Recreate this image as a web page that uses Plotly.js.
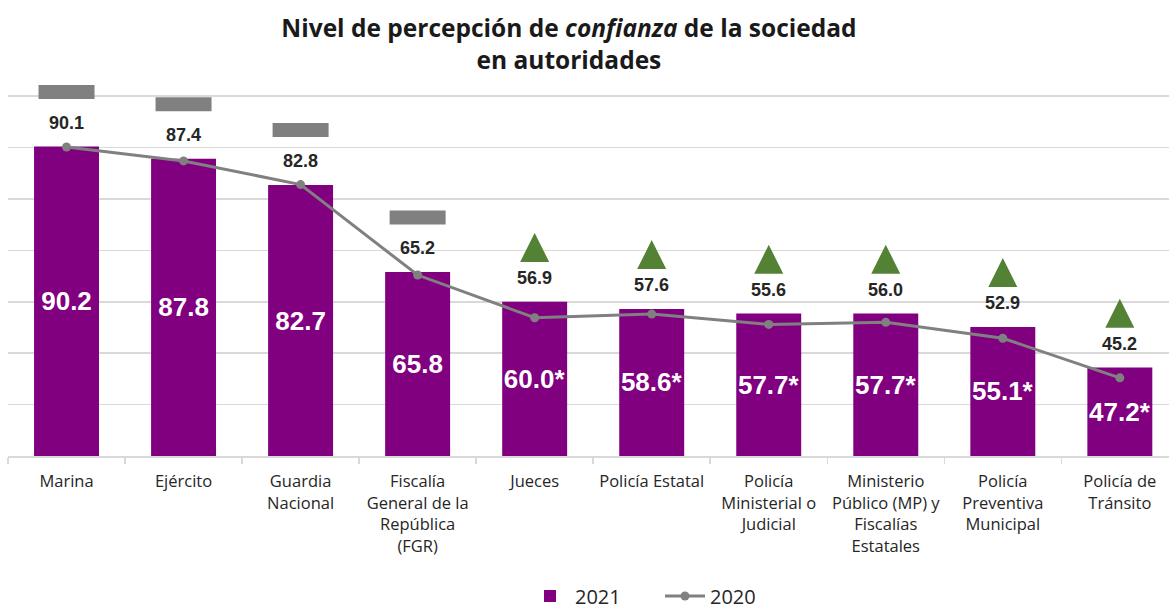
<!DOCTYPE html>
<html>
<head>
<meta charset="utf-8">
<script src="https://cdn.plot.ly/plotly-3.0.1.min.js"></script>
<style>html,body{margin:0;padding:0;background:#fff;}#chart{width:1169px;height:609px;}</style>
</head>
<body>
<div id="chart"></div>
<script>
// ---- data ----
var categories = [
  "Marina",
  "Ejército",
  "Guardia<br>Nacional",
  "Fiscalía<br>General de la<br>República<br>(FGR)",
  "Jueces",
  "Policía Estatal",
  "Policía<br>Ministerial o<br>Judicial",
  "Ministerio<br>Público (MP) y<br>Fiscalías<br>Estatales",
  "Policía<br>Preventiva<br>Municipal",
  "Policía de<br>Tránsito"
];
var values2021 = [90.2, 87.8, 82.7, 65.8, 60.0, 58.6, 57.7, 57.7, 55.1, 47.2];
var values2020 = [90.1, 87.4, 82.8, 65.2, 56.9, 57.6, 55.6, 56.0, 52.9, 45.2];
var significant2021 = [false, false, false, false, true, true, true, true, true, true];
// change indicator: "same" = gray dash, "up" = green triangle
var change = ["same", "same", "same", "same", "up", "up", "up", "up", "up", "up"];

// ---- styles ----
var PURPLE = "#800080";
var GRAY = "#808080";
var GREEN = "#548235";
var GRID = "#d9d9d9";
var NUMFONT = "'Liberation Sans', Arial, sans-serif";
var TXTFONT = "'Open Sans', sans-serif";
var AXIS_MIN = 30, AXIS_MAX = 101;

var barText = values2021.map(function (v, i) { return v.toFixed(1) + (significant2021[i] ? "*" : ""); });
var topVal = values2021.map(function (v, i) { return Math.max(v, values2020[i]); });

var sameX = [], sameY = [], upX = [], upY = [];
change.forEach(function (c, i) {
  if (c === "same") { sameX.push(categories[i]); sameY.push(topVal[i] + 10.6); }
  else { upX.push(categories[i]); upY.push(topVal[i] + 13.4); }
});

var traces = [
  {
    type: "bar", name: "2021", x: categories,
    y: values2021.map(function (v) { return v - AXIS_MIN; }), base: AXIS_MIN,
    customdata: values2021,
    marker: { color: PURPLE }, width: 0.555,
    text: barText, textposition: "inside", insidetextanchor: "middle",
    textangle: 0,
    textfont: { color: "#ffffff", size: 26, family: NUMFONT, weight: "bold" },
    hovertemplate: "%{x}: %{customdata}<extra></extra>"
  },
  {
    type: "scatter", mode: "lines+markers", name: "2020", x: categories, y: values2020,
    line: { color: GRAY, width: 3 }, marker: { color: GRAY, size: 9 },
    cliponaxis: false
  },
  {
    type: "scatter", mode: "markers", x: sameX, y: sameY, showlegend: false,
    marker: { symbol: "line-ew", size: 40, line: { color: GRAY, width: 14 }, color: GRAY },
    cliponaxis: false, hoverinfo: "skip"
  },
  {
    type: "scatter", mode: "markers", x: upX, y: upY, showlegend: false,
    marker: { symbol: "arrow-up", size: 29, color: GREEN, line: { width: 0 } },
    cliponaxis: false, hoverinfo: "skip"
  }
];

var annotations = categories.map(function (c, i) {
  return {
    x: c, y: topVal[i], xref: "x", yref: "y",
    text: values2020[i].toFixed(1), showarrow: false,
    yanchor: "bottom", yshift: 12,
    font: { family: NUMFONT, size: 18, color: "#262626", weight: "bold" }
  };
});

var layout = {
  width: 1169, height: 609,
  margin: { l: 8, r: 0, t: 91, b: 153, pad: 0, autoexpand: false },
  paper_bgcolor: "#ffffff", plot_bgcolor: "#ffffff",
  uniformtext: { minsize: 26, mode: "show" },
  title: {
    text: "Nivel de percepción de <i>confianza</i> de la sociedad<br>en autoridades",
    x: 0.4867, xref: "container", xanchor: "center",
    y: 1 - 37 / 609, yref: "container", yanchor: "middle",
    font: { family: TXTFONT, size: 24.5, color: "#1a1a1a", weight: "bold" }
  },
  xaxis: {
    type: "category", range: [-0.5, 9.42],
    showgrid: false, showline: true, linecolor: GRID, linewidth: 1.5,
    ticks: "outside", tickson: "boundaries", ticklen: 6, tickcolor: GRID, tickwidth: 1.5,
    ticklabelstandoff: 10, tickangle: 0,
    tickfont: { family: TXTFONT, size: 16.5, color: "#262626" },
    fixedrange: true
  },
  yaxis: {
    range: [AXIS_MIN, AXIS_MAX], tick0: 0, dtick: 10,
    showgrid: true, gridcolor: GRID, gridwidth: 1.5,
    showticklabels: false, zeroline: false, showline: false, ticks: "",
    fixedrange: true
  },
  bargap: 0.445,
  showlegend: true,
  legend: {
    orientation: "h", xref: "container", x: 525 / 1169, xanchor: "left",
    yref: "paper", y: (456 - 596) / 365, yanchor: "middle",
    entrywidth: 80, itemwidth: 40,
    font: { family: TXTFONT, size: 20, color: "#262626" },
    traceorder: "normal"
  },
  annotations: annotations
};

Plotly.newPlot("chart", traces, layout, { displayModeBar: false, staticPlot: true });
</script>
</body>
</html>
